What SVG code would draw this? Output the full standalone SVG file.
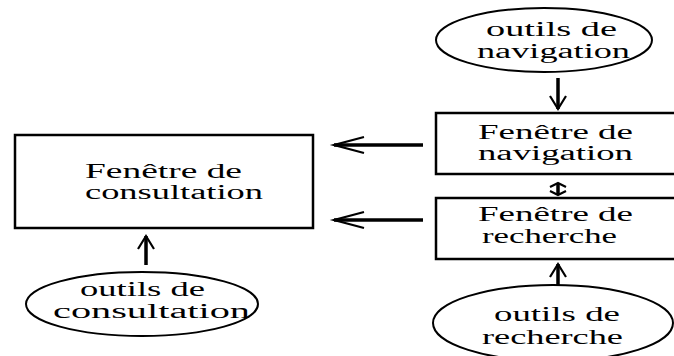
<svg xmlns="http://www.w3.org/2000/svg" width="674" height="356" viewBox="0 0 674 356">
  <style>
    .box { fill: #fff; stroke: #000; stroke-width: 2.5; }
    .oval { fill: #fff; stroke: #000; stroke-width: 2; }
    .lbl { font-family: "Liberation Serif", "Times New Roman", serif; font-size: 20px; fill: #000; }
    .shaft { fill: none; stroke: #000; stroke-width: 3.5; }
    .head { fill: none; stroke: #000; stroke-width: 2.2; stroke-linejoin: miter; }
  </style>
  <defs>
    <!-- long, narrow head for the horizontal arrows -->
    <marker id="head-long" markerUnits="userSpaceOnUse" viewBox="-32 -10 36 20" refX="0" refY="0" markerWidth="36" markerHeight="20" orient="auto" overflow="visible">
      <path class="head" d="M -30 -8 L 0 0 L -30 8"/>
    </marker>
    <!-- shorter head for the vertical arrows -->
    <marker id="head-short" markerUnits="userSpaceOnUse" viewBox="-16 -10 20 20" refX="0" refY="0" markerWidth="20" markerHeight="20" orient="auto" overflow="visible">
      <path class="head" d="M -13 -8 L 0 0 L -13 8"/>
    </marker>
    <!-- flat head for the two-way link between the right windows -->
    <marker id="head-tiny" markerUnits="userSpaceOnUse" viewBox="-8 -10 10 20" refX="0" refY="0" markerWidth="10" markerHeight="20" orient="auto-start-reverse" overflow="visible">
      <path class="head" d="M -4 -8 L 0 0 L -4 8"/>
    </marker>
  </defs>

  <g id="connectors">
    <!-- navigation tools to navigation window -->
    <line class="shaft" x1="558" y1="78" x2="558" y2="109" marker-end="url(#head-short)"/>
    <!-- navigation window to consultation window -->
    <line class="shaft" x1="423" y1="145" x2="334" y2="145" marker-end="url(#head-long)"/>
    <!-- navigation window <-> search window -->
    <line class="shaft" x1="558" y1="183" x2="558" y2="195" marker-start="url(#head-tiny)" marker-end="url(#head-tiny)"/>
    <!-- search window to consultation window -->
    <line class="shaft" x1="423" y1="220" x2="334" y2="220" marker-end="url(#head-long)"/>
    <!-- search tools to search window -->
    <line class="shaft" x1="558" y1="292" x2="558" y2="264" marker-end="url(#head-short)"/>
    <!-- consultation tools to consultation window -->
    <line class="shaft" x1="146" y1="265" x2="146" y2="236" marker-end="url(#head-short)"/>
  </g>

  <g id="fenetre-consultation">
    <rect class="box" x="15" y="135" width="298" height="93"/>
    <text class="lbl" x="85" y="178" textLength="157" lengthAdjust="spacingAndGlyphs">Fenêtre de</text>
    <text class="lbl" x="85" y="199" textLength="178" lengthAdjust="spacingAndGlyphs">consultation</text>
  </g>

  <g id="outils-navigation">
    <ellipse class="oval" cx="544" cy="40" rx="108" ry="32"/>
    <text class="lbl" x="486" y="36" textLength="131" lengthAdjust="spacingAndGlyphs">outils de</text>
    <text class="lbl" x="477" y="58" textLength="153" lengthAdjust="spacingAndGlyphs">navigation</text>
  </g>

  <g id="fenetre-navigation">
    <rect class="box" x="436" y="113" width="260" height="61"/>
    <text class="lbl" x="478" y="139" textLength="155" lengthAdjust="spacingAndGlyphs">Fenêtre de</text>
    <text class="lbl" x="478" y="160" textLength="155" lengthAdjust="spacingAndGlyphs">navigation</text>
  </g>

  <g id="fenetre-recherche">
    <rect class="box" x="436" y="198" width="260" height="61"/>
    <text class="lbl" x="478" y="221" textLength="155" lengthAdjust="spacingAndGlyphs">Fenêtre de</text>
    <text class="lbl" x="482" y="243" textLength="135" lengthAdjust="spacingAndGlyphs">recherche</text>
  </g>

  <g id="outils-recherche">
    <ellipse class="oval" cx="553" cy="323" rx="120" ry="38"/>
    <text class="lbl" x="494" y="321" textLength="126" lengthAdjust="spacingAndGlyphs">outils de</text>
    <text class="lbl" x="482" y="344" textLength="141" lengthAdjust="spacingAndGlyphs">recherche</text>
  </g>

  <g id="outils-consultation">
    <ellipse class="oval" cx="142" cy="304" rx="116" ry="32"/>
    <text class="lbl" x="80" y="296" textLength="125" lengthAdjust="spacingAndGlyphs">outils de</text>
    <text class="lbl" x="53" y="318" textLength="197" lengthAdjust="spacingAndGlyphs">consultation</text>
  </g>
</svg>
